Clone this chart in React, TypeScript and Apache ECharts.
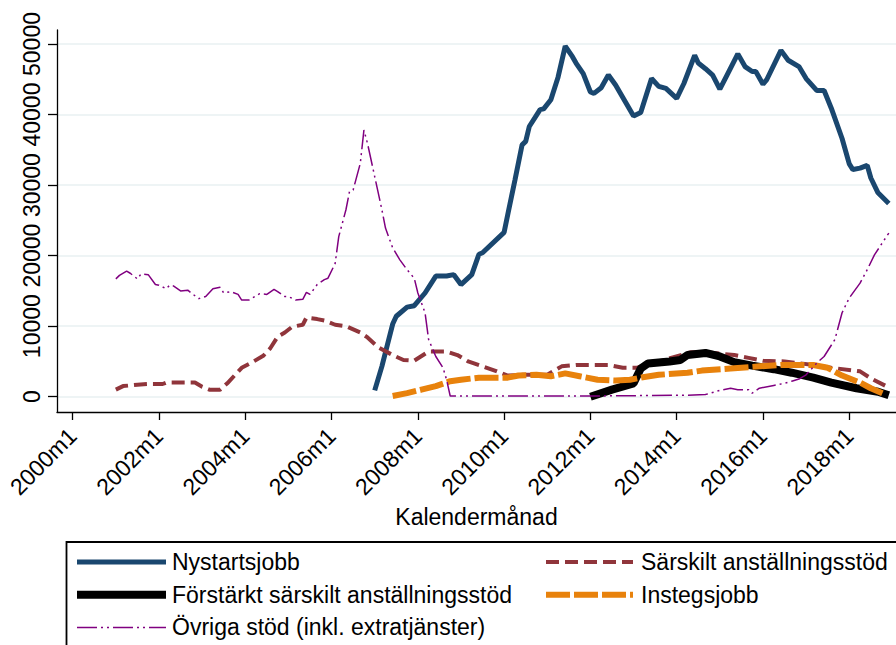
import React, { useEffect, useRef } from "react";
import * as echarts from "echarts";

const FONT = "'Liberation Sans', Arial, Helvetica, sans-serif";

// Axis ticks
const X_TICK_LABELS = ["2000m1", "2002m1", "2004m1", "2006m1", "2008m1", "2010m1", "2012m1", "2014m1", "2016m1", "2018m1"];
const Y_TICKS = [0, 10000, 20000, 30000, 40000, 50000];
const X_TITLE = "Kalendermånad";

// Series names
const NAMES = [
  "Nystartsjobb",
  "Särskilt anställningsstöd",
  "Förstärkt särskilt anställningsstöd",
  "Instegsjobb",
  "Övriga stöd (inkl. extratjänster)",
];

// Nystartsjobb
const nystartsMonths = ["2007m1", "2007m3", "2007m6", "2007m7", "2007m10", "2007m12", "2008m3", "2008m6", "2008m9", "2008m11", "2009m1", "2009m4", "2009m6", "2009m7", "2010m1", "2010m2", "2010m4", "2010m6", "2010m7", "2010m8", "2010m11", "2010m12", "2011m2", "2011m4", "2011m6", "2011m8", "2011m9", "2011m11", "2012m1", "2012m2", "2012m4", "2012m6", "2012m8", "2013m1", "2013m3", "2013m6", "2013m8", "2013m10", "2014m1", "2014m3", "2014m6", "2014m7", "2014m9", "2014m11", "2015m1", "2015m3", "2015m6", "2015m8", "2015m10", "2015m11", "2016m1", "2016m2", "2016m6", "2016m8", "2016m11", "2017m1", "2017m4", "2017m6", "2017m8", "2017m11", "2018m1", "2018m2", "2018m4", "2018m6", "2018m7", "2018m9", "2018m12"];
const nystartsValues = [900, 4300, 10300, 11400, 12700, 12900, 14700, 17100, 17100, 17300, 15900, 17300, 20200, 20400, 23300, 25800, 30700, 35700, 36200, 38300, 40700, 40800, 42100, 45300, 49700, 48200, 47300, 45800, 43200, 43000, 43800, 45600, 44200, 39800, 40300, 45100, 44000, 43700, 42300, 44400, 48400, 47300, 46500, 45600, 43600, 45600, 48600, 46800, 46100, 46100, 44300, 44900, 49100, 47700, 46800, 45100, 43400, 43400, 40900, 36600, 33000, 32200, 32400, 32800, 31000, 28900, 27400];

// Särskilt anställningsstöd
const sarskiltMonths = ["2001m1", "2001m3", "2001m7", "2001m10", "2002m2", "2002m3", "2002m11", "2003m1", "2003m3", "2003m6", "2003m8", "2003m10", "2003m12", "2004m3", "2004m6", "2004m8", "2004m10", "2004m12", "2005m2", "2005m5", "2005m6", "2005m9", "2005m11", "2006m2", "2006m5", "2006m9", "2006m11", "2007m2", "2007m6", "2007m9", "2007m12", "2008m4", "2008m9", "2008m12", "2009m3", "2009m7", "2009m11", "2010m2", "2010m6", "2011m1", "2011m5", "2011m9", "2012m6", "2012m10", "2013m2", "2013m5", "2013m8", "2014m5", "2014m9", "2015m5", "2015m9", "2016m1", "2016m7", "2017m3", "2017m8", "2018m4", "2018m7", "2018m12"];
const sarskiltValues = [1000, 1500, 1700, 1800, 1800, 2000, 2000, 1400, 1000, 1000, 1900, 3000, 4100, 4900, 5800, 6900, 8500, 9100, 9900, 10200, 11200, 11000, 10800, 10200, 10000, 9100, 8400, 7000, 5900, 5200, 5100, 6400, 6400, 5900, 5000, 4300, 3600, 3000, 3100, 3100, 4300, 4500, 4500, 4100, 4100, 4600, 5000, 6300, 6300, 5900, 5500, 5100, 5000, 4500, 4100, 3600, 2600, 1300];

// Förstärkt särskilt anställningsstöd
const forstarktMonths = ["2012m1", "2012m7", "2013m1", "2013m3", "2013m5", "2013m11", "2014m2", "2014m4", "2014m9", "2015m1", "2015m5", "2015m10", "2016m4", "2016m9", "2017m3", "2017m8", "2018m3", "2018m9", "2018m12"];
const forstarktValues = [0, 1000, 1900, 4000, 4700, 5000, 5200, 5900, 6200, 5700, 4900, 4400, 3900, 3400, 2700, 2000, 1200, 700, 200];

// Instegsjobb
const instegMonths = ["2007m6", "2007m10", "2008m2", "2008m6", "2008m10", "2009m1", "2009m6", "2009m10", "2010m2", "2010m5", "2010m10", "2011m2", "2011m6", "2011m10", "2012m3", "2012m8", "2012m12", "2013m4", "2013m8", "2014m4", "2014m8", "2015m4", "2015m12", "2016m6", "2017m3", "2017m7", "2017m11", "2018m4", "2018m7", "2018m11"];
const instegValues = [100, 500, 1000, 1500, 2200, 2400, 2700, 2700, 2700, 3000, 3100, 2900, 3300, 2900, 2400, 2300, 2400, 2800, 3100, 3400, 3700, 4000, 4300, 4500, 4500, 4100, 3000, 2000, 1200, 300];

// Övriga stöd (inkl. extratjänster)
const ovrigaMonths = ["2001m1", "2001m2", "2001m4", "2001m5", "2001m7", "2001m8", "2001m10", "2001m12", "2002m1", "2002m3", "2002m4", "2002m5", "2002m7", "2002m9", "2002m10", "2002m12", "2003m2", "2003m4", "2003m6", "2003m7", "2003m9", "2003m11", "2003m12", "2004m2", "2004m3", "2004m5", "2004m7", "2004m9", "2004m10", "2004m12", "2005m1", "2005m3", "2005m5", "2005m6", "2005m7", "2005m9", "2005m11", "2005m12", "2006m2", "2006m3", "2006m5", "2006m6", "2006m7", "2006m9", "2006m10", "2006m11", "2007m1", "2007m3", "2007m4", "2007m6", "2007m8", "2007m10", "2007m12", "2008m1", "2008m3", "2008m4", "2008m6", "2008m8", "2008m9", "2008m10", "2012m1", "2014m3", "2014m9", "2015m1", "2015m4", "2015m6", "2015m9", "2015m10", "2015m12", "2016m4", "2016m7", "2016m9", "2016m11", "2017m1", "2017m4", "2017m6", "2017m9", "2017m11", "2018m1", "2018m4", "2018m6", "2018m8", "2018m12"];
const ovrigaValues = [16700, 17200, 17800, 17500, 16700, 17400, 17300, 15900, 15800, 15300, 15800, 15700, 15000, 15100, 14700, 13900, 14200, 15300, 15500, 14700, 14900, 14500, 13700, 13700, 14000, 14600, 14500, 15200, 14900, 14200, 14200, 13700, 13800, 14800, 14500, 15900, 16600, 16800, 18900, 22700, 26500, 29100, 29300, 33100, 37800, 35900, 31200, 26500, 23900, 21100, 19400, 18000, 16800, 14700, 11900, 8100, 5700, 4100, 2400, 100, 100, 200, 300, 900, 1200, 1000, 1000, 500, 1200, 1600, 1900, 2200, 2500, 3100, 4800, 5700, 8100, 11900, 14000, 16100, 18000, 20100, 23200];

function monthIndex(s: string): number {
  const [y, m] = s.split("m");
  return (Number(y) - 2000) * 12 + Number(m) - 1;
}

function pairs(months: string[], values: number[]) {
  return months.map((mo, i) => [monthIndex(mo), values[i]]);
}

const COLORS = ["#1a476f", "#90353b", "#000000", "#e8820c", "#800080"];
const WIDTHS = [5, 4, 8, 6, 1.5];
const DASHES: any[] = ["solid", [13, 6], "solid", [24, 4], [20, 4, 2, 4, 2, 4]];

export default function App() {
  const ref = useRef<HTMLDivElement>(null);

  useEffect(() => {
    if (!ref.current) return;
    const chart = echarts.init(ref.current, null, { renderer: "svg" });

    const xTickValues = X_TICK_LABELS.map(monthIndex);
    const dataSets = [
      pairs(nystartsMonths, nystartsValues),
      pairs(sarskiltMonths, sarskiltValues),
      pairs(forstarktMonths, forstarktValues),
      pairs(instegMonths, instegValues),
      pairs(ovrigaMonths, ovrigaValues),
    ];

    const series = NAMES.map((name, i) => ({
      name,
      type: "line",
      data: dataSets[i],
      symbol: "none",
      showSymbol: false,
      lineStyle: { color: COLORS[i], width: WIDTHS[i], type: DASHES[i] },
      itemStyle: { color: COLORS[i] },
      emphasis: { disabled: true },
    }));

    const legendItem = (i: number) => ({
      name: NAMES[i],
      lineStyle: { color: COLORS[i], width: WIDTHS[i], type: DASHES[i], opacity: 1 },
      itemStyle: { opacity: 0 },
    });

    const legendText = { fontSize: 23, color: "#000", fontFamily: FONT, padding: [0, 0, 0, 1] };

    const axisLineStyle = { color: "#000", width: 1.3 };

    const option: any = {
      animation: false,
      backgroundColor: "#ffffff",
      textStyle: { fontFamily: FONT },
      grid: { left: 57, top: 30, right: 0, height: 382, containLabel: false },
      xAxis: {
        type: "value",
        min: -4.37,
        max: 229,
        name: X_TITLE,
        nameLocation: "middle",
        nameGap: 90,
        nameTextStyle: { fontSize: 23, color: "#000", fontFamily: FONT },
        axisLine: { show: true, onZero: false, lineStyle: axisLineStyle },
        axisTick: { show: true, length: 8, lineStyle: axisLineStyle, customValues: xTickValues },
        axisLabel: {
          show: true,
          customValues: xTickValues,
          rotate: 45,
          margin: 20,
          fontSize: 23,
          color: "#000",
          fontFamily: FONT,
          formatter: (v: number) => {
            const k = xTickValues.indexOf(Math.round(v));
            return k >= 0 ? X_TICK_LABELS[k] : "";
          },
        },
        splitLine: { show: false },
      },
      yAxis: {
        type: "value",
        min: -2170,
        max: 51985,
        axisLine: { show: true, onZero: false, lineStyle: axisLineStyle },
        axisTick: { show: true, length: 9, lineStyle: axisLineStyle, customValues: Y_TICKS },
        axisLabel: {
          show: true,
          customValues: Y_TICKS,
          rotate: 90,
          margin: 14,
          fontSize: 23,
          color: "#000",
          fontFamily: FONT,
          formatter: (v: number) => String(v),
        },
        splitLine: { show: true, lineStyle: { color: "#e8f0f2", width: 1.5 } },
      },
      legend: [
        {
          orient: "vertical",
          left: 73,
          top: 550.5,
          padding: 0,
          itemWidth: 89,
          itemHeight: 23,
          itemGap: 9.7,
          selectedMode: false,
          textStyle: legendText,
          itemStyle: { opacity: 0 },
          data: [legendItem(0), legendItem(2), legendItem(4)],
        },
        {
          orient: "vertical",
          left: 543,
          top: 550.5,
          padding: 0,
          itemWidth: 87,
          itemHeight: 23,
          itemGap: 9.7,
          selectedMode: false,
          textStyle: { ...legendText, padding: [0, 0, 0, 3] },
          itemStyle: { opacity: 0 },
          data: [legendItem(1), legendItem(3)],
        },
      ],
      graphic: [
        {
          type: "rect",
          silent: true,
          z: -1,
          shape: { x: 66.5, y: 542, width: 860, height: 140 },
          style: { fill: "none", stroke: "#000", lineWidth: 1.8 },
        },
      ],
      series,
    };

    chart.setOption(option);
    return () => chart.dispose();
  }, []);

  return (
    <div
      ref={ref}
      style={{ position: "absolute", left: 0, top: 0, width: 896, height: 645, background: "#fff" }}
    />
  );
}
